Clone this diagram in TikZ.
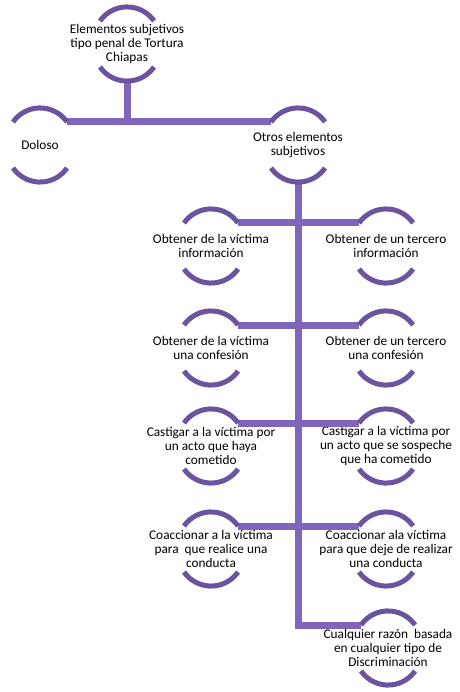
\documentclass[tikz,border=0pt]{standalone}
\usepackage{fontspec}
\setmainfont{Carlito}
\usepackage{tikz}
\usetikzlibrary{calc, positioning}

\definecolor{arcomorado}{RGB}{106,84,160}
\definecolor{lineamorada}{RGB}{128,102,186}

\tikzset{
  elem/.style={minimum width=54pt, minimum height=46pt, inner sep=0pt, outer sep=0pt},
  texto/.style={align=center, inner sep=0pt, font=\fontsize{13.3}{14.2}\selectfont},
  arco/.style={draw=arcomorado, line width=5pt},
  linea/.style={draw=lineamorada, line width=7pt}
}

\begin{document}
\begin{tikzpicture}[x=1pt, y=1pt]
    \useasboundingbox (0,0) rectangle (459,-692);

    % nodos
    \node[elem, label={[texto]center:Elementos subjetivos\\tipo penal de Tortura\\Chiapas}] (tipo) at (127,-44) {};
    \node[elem, label={[texto]center:Doloso}] (doloso) at (40,-145) {};
    \node[elem, label={[texto]center:Otros elementos\\subjetivos}] (otros) at (298,-145) {};

    \node[elem, label={[texto]center:Obtener de la víctima\\información}] (vinfo) at (211,-246) {};
    \node[elem, label={[texto]center:Obtener de un tercero\\información}] (tinfo) at (386,-246) {};
    \node[elem, label={[texto]center:Obtener de la víctima\\una confesión}] (vconf) at (211,-348) {};
    \node[elem, label={[texto]center:Obtener de un tercero\\una confesión}] (tconf) at (386,-348) {};
    \node[elem, label={[texto]center:Castigar a la víctima por\\un acto que haya\\cometido}] (vcast) at (211,-446) {};
    \node[elem, label={[texto]center:Castigar a la víctima por\\un acto que se sospeche\\que ha cometido}] (scast) at (386,-446) {};
    \node[elem, label={[texto]center:Coaccionar a la víctima\\para\ \ que realice una\\conducta}] (vcoac) at (211,-549) {};
    \node[elem, label={[texto]center:Coaccionar ala víctima\\para que deje de realizar\\una conducta}] (dcoac) at (386,-549) {};
    \node[elem, label={[texto]center:Cualquier razón\ \ basada\\en cualquier tipo de\\Discriminación}] (razon) at (388,-648) {};

    % conectores
    \draw[linea] ([yshift=-14pt]tipo.south) -- (tipo.south |- doloso.north);
    \draw[linea] (doloso.north east) -- (otros.north west);
    \draw[linea] ([yshift=-14pt]otros.south) |- (razon.north west);
    \draw[linea] (vinfo.north east) -- (tinfo.north west);
    \draw[linea] (vconf.north east) -- (tconf.north west);
    \draw[linea] (vcast.north east) -- (scast.north west);
    \draw[linea] (vcoac.north east) -- (dcoac.north west);

    % arcos
    \foreach \n in {tipo,doloso,otros,vinfo,tinfo,vconf,tconf,vcast,scast,vcoac,dcoac,razon}{
        \draw[arco] (\n.north west) arc[start angle=145, end angle=35, radius=33];
        \draw[arco] (\n.south west) arc[start angle=215, end angle=325, radius=33];
    }
\end{tikzpicture}
\end{document}
